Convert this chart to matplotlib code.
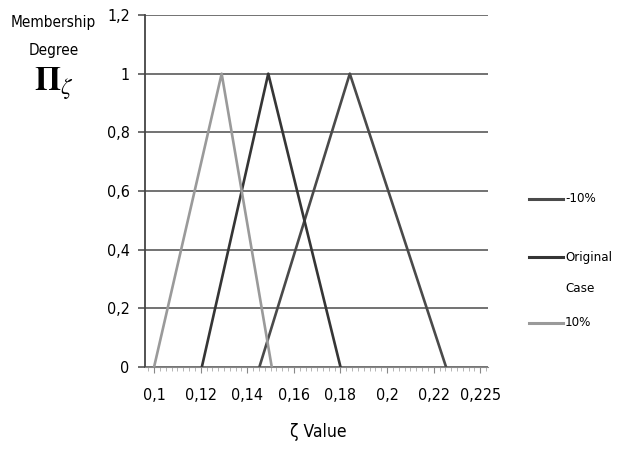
import matplotlib.pyplot as plt
from matplotlib import font_manager
from matplotlib.ticker import MultipleLocator

# pick a narrow font if there is one
fonts = font_manager.fontManager.ttflist
names = {f.name for f in fonts}
stretch = 'normal'
if 'Liberation Sans Narrow' in names:
    fam = 'Liberation Sans Narrow'
elif any(f.name == 'DejaVu Sans' and f.stretch == 'condensed' for f in fonts):
    fam = 'DejaVu Sans'
    stretch = 'condensed'
else:
    fam = 'DejaVu Sans'
plt.rcParams['font.family'] = [fam, 'DejaVu Sans']
plt.rcParams['font.stretch'] = stretch

# triangular fuzzy numbers (left, peak, right)
x_minus10 = [0.1452, 0.184, 0.2253]
x_orig = [0.1205, 0.149, 0.180]
x_plus10 = [0.100, 0.129, 0.1505]
mu = [0, 1, 0]

xticks = [0.10, 0.12, 0.14, 0.16, 0.18, 0.20, 0.22, 0.24]
xticklabels = ['0,1', '0,12', '0,14', '0,16', '0,18', '0,2', '0,22', '0,225']
yticks = [0, 0.2, 0.4, 0.6, 0.8, 1.0, 1.2]
yticklabels = ['0', '0,2', '0,4', '0,6', '0,8', '1', '1,2']

fig = plt.figure(figsize=(6.17, 4.51), dpi=100)
ax = fig.add_axes([0.2350, 0.1863, 0.5559, 0.7804])

ax.plot(x_minus10, mu, color='#4a4a4a', lw=1.9)
ax.plot(x_orig, mu, color='#353535', lw=1.9)
ax.plot(x_plus10, mu, color='#9a9a9a', lw=1.9)

ax.set_xlim(0.0961, 0.2433)
ax.set_ylim(0, 1.2)
ax.set_xticks(xticks)
ax.set_xticklabels(xticklabels, fontsize=11.5)
ax.set_yticks(yticks)
ax.set_yticklabels(yticklabels, fontsize=11.5)
ax.xaxis.set_minor_locator(MultipleLocator(0.0025))
ax.tick_params(axis='x', which='major', length=4, color='#888888', pad=11)
ax.tick_params(axis='x', which='minor', length=3, color='#aaaaaa')
ax.tick_params(axis='y', length=5, color='#555555', width=1.2, pad=6)

ax.grid(axis='y', color='#5a5a5a', lw=1.2)
ax.set_axisbelow(True)
for s in ['top', 'right']:
    ax.spines[s].set_visible(False)
ax.spines['left'].set_color('#444444')
ax.spines['left'].set_linewidth(1.3)
ax.spines['bottom'].set_color('#888888')

fig.text(53 / 617, 1 - 23 / 451, 'Membership', ha='center', va='center', fontsize=11)
fig.text(54 / 617, 1 - 50 / 451, 'Degree', ha='center', va='center', fontsize=11)
fig.text(54 / 617, 1 - 84 / 451, r'$\mathbf{\Pi}_{\zeta}$', ha='center', va='center',
         fontsize=24, math_fontfamily='stix')
fig.text(318 / 617, 1 - 432 / 451, 'ζ Value', ha='center', va='center', fontsize=12.5)

# legend drawn by hand at the right
leg = [('-10%', 199, '#4a4a4a'), ('Original', 257, '#353535'), ('10%', 323, '#9a9a9a')]
for lab, yy, c in leg:
    fig.add_artist(plt.Line2D([529 / 617, 563 / 617], [1 - yy / 451] * 2,
                              color=c, lw=2.2, transform=fig.transFigure))
    fig.text(565 / 617, 1 - yy / 451, lab, ha='left', va='center', fontsize=9.5)
fig.text(565 / 617, 1 - 288 / 451, 'Case', ha='left', va='center', fontsize=9.5)

fig.savefig('out.png', dpi=100)
